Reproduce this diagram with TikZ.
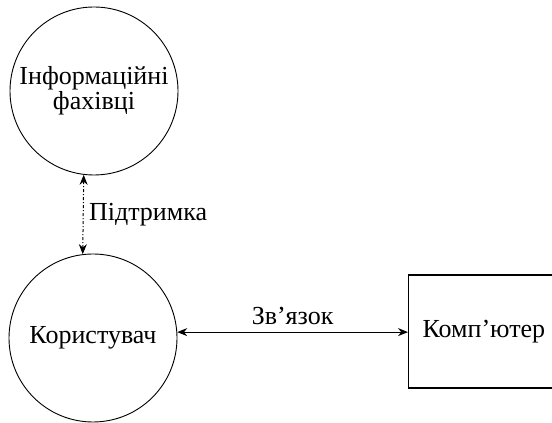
\documentclass[tikz,border=0pt]{standalone}
\usepackage{fontspec}
\setmainfont{Liberation Serif}
\usepackage{tikz}
\usetikzlibrary{arrows.meta}

\tikzset{
    party/.style={draw, circle, line width=0.9pt, minimum size=168pt, inner sep=0pt, align=center},
    machine/.style={draw, rectangle, line width=1.2pt, minimum height=113pt, text width=150pt, inner xsep=14pt, align=left},
    link/.style={line width=1pt, {Stealth[length=10pt,width=8pt]}-{Stealth[length=10pt,width=8pt]}}
}

\begin{document}
\begin{tikzpicture}[x=1pt, y=1pt, font=\fontsize{26}{23}\selectfont]
    \useasboundingbox (0,0) rectangle (552,423);

    % Participants
    \node[party] (fakh) at (94,332) {Інформаційні\\фахівці};
    \node[party] (kor) at (93,85) {Користувач};
    \node[machine, anchor=west] (comp) at (408,91.5) {Комп’ютер};

    % Support link (dash-dot)
    \draw[link, dash dot] (fakh.263) -- (kor.97)
        node[midway, right, xshift=2pt] {Підтримка};

    % Communication link
    \draw[link] (kor.4) -- (kor.4 -| comp.west)
        node[midway, above, yshift=4pt] {Зв’язок};
\end{tikzpicture}
\end{document}
